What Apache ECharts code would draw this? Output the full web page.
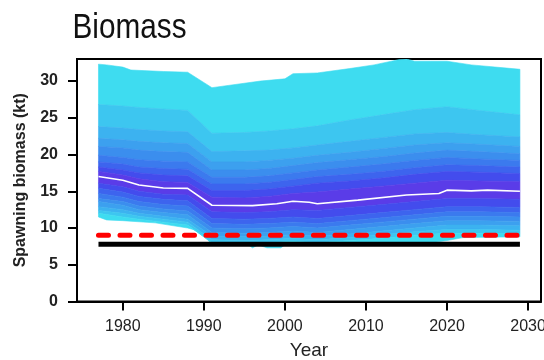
<!DOCTYPE html>
<html>
<head>
<meta charset="utf-8">
<script src="https://cdn.jsdelivr.net/npm/echarts@6/dist/echarts.min.js"></script>
<style>html,body{margin:0;padding:0;background:#fff;}#c{width:544px;height:360px;}</style>
</head>
<body>
<div id="c"></div>
<script>
// ---- tick labels ----
const xTicks = [1980, 1990, 2000, 2010, 2020, 2030];
const yTicks = [0, 5, 10, 15, 20, 25, 30];

// ---- key years for the inner quantile boundaries ----
const years = [1977, 1980, 1982, 1985, 1988, 1991, 1995, 1998, 2001, 2004, 2008, 2012, 2016, 2020, 2024, 2029];

// outer upper envelope
const topYears = [1977, 1978, 1980, 1981, 1985, 1988, 1991, 1993, 1997, 2000, 2001, 2004, 2008, 2011, 2014, 2015, 2016, 2018, 2020, 2023, 2027, 2029];
const topVals  = [32.3, 32.2, 31.9, 31.5, 31.3, 31.2, 29.1, 29.4, 30.0, 30.3, 31.0, 31.1, 31.7, 32.2, 32.9, 33.0, 32.7, 32.7, 32.7, 32.2, 31.8, 31.6];

// upper quantile boundaries (outer -> inner)
const u1 = [26.8, 26.6, 26.4, 26.2, 26.0, 22.9, 23.0, 23.2, 23.5, 23.9, 24.7, 25.4, 26.1, 26.5, 26.0, 25.4];
const u2 = [23.8, 23.6, 23.4, 23.2, 23.1, 20.4, 20.5, 20.6, 20.9, 21.3, 21.8, 22.3, 22.8, 23.0, 22.7, 22.4];
const u3 = [22.2, 22.0, 21.8, 21.6, 21.5, 19.0, 19.0, 19.2, 19.5, 19.9, 20.3, 20.8, 21.3, 21.6, 21.4, 21.1];
const u4 = [21.1, 20.9, 20.6, 20.4, 20.3, 17.9, 17.9, 18.1, 18.5, 18.9, 19.3, 19.7, 20.2, 20.6, 20.4, 20.1];
const u5 = [19.9, 19.6, 19.3, 19.1, 19.0, 16.9, 16.9, 17.1, 17.5, 17.9, 18.3, 18.7, 19.2, 19.6, 19.4, 19.2];
const u6 = [19.0, 18.7, 18.3, 18.1, 18.0, 16.0, 16.0, 16.2, 16.6, 17.0, 17.3, 17.7, 18.2, 18.6, 18.5, 18.3];
const u7 = [18.3, 17.9, 17.5, 17.2, 17.1, 15.1, 15.1, 15.3, 15.7, 16.1, 16.4, 16.8, 17.3, 17.7, 17.6, 17.4];
const u8 = [17.7, 17.2, 16.7, 16.3, 16.2, 14.2, 14.1, 14.3, 14.7, 14.9, 15.3, 15.7, 16.1, 16.5, 16.4, 16.3];

// median
const medYears = [1977, 1980, 1982, 1985, 1988, 1991, 1996, 1999, 2001, 2003, 2004, 2009, 2015, 2019, 2020, 2023, 2025, 2029];
const medVals  = [17.0, 16.5, 15.85, 15.45, 15.4, 13.1, 13.05, 13.3, 13.65, 13.5, 13.3, 13.8, 14.5, 14.7, 15.15, 15.05, 15.15, 15.0];

// lower quantile boundaries (inner -> outer)
const l1 = [16.1, 15.6, 15.0, 14.6, 14.5, 12.2, 12.1, 12.2, 12.5, 12.4, 12.8, 13.2, 13.6, 14.0, 14.0, 13.9];
const l2 = [15.4, 14.9, 14.3, 13.9, 13.7, 11.3, 11.2, 11.3, 11.5, 11.3, 11.7, 12.1, 12.5, 12.9, 12.9, 12.8];
const l3 = [14.7, 14.2, 13.6, 13.2, 13.0, 10.6, 10.5, 10.6, 10.8, 10.6, 11.0, 11.4, 11.8, 12.2, 12.2, 12.1];
const l4 = [14.0, 13.6, 13.0, 12.6, 12.3, 10.0, 9.9, 10.0, 10.2, 10.0, 10.4, 10.8, 11.2, 11.6, 11.6, 11.5];
const l5 = [13.6, 13.1, 12.5, 12.1, 11.8, 9.4, 9.3, 9.4, 9.6, 9.4, 9.8, 10.2, 10.6, 11.0, 11.0, 10.9];
const l6 = [12.9, 12.5, 12.0, 11.6, 11.2, 8.9, 8.8, 8.9, 9.1, 8.9, 9.2, 9.6, 10.0, 10.4, 10.4, 10.3];
const l7 = [12.4, 12.0, 11.6, 11.2, 10.8, 8.4, 8.3, 8.4, 8.6, 8.4, 8.7, 9.1, 9.5, 9.8, 9.8, 9.7];
const l8 = [12.0, 11.5, 11.2, 10.8, 10.4, 8.0, 7.9, 8.0, 8.2, 8.0, 8.3, 8.6, 9.0, 9.3, 9.3, 9.2];

// outer lower envelope
const botYears = [1977, 1978, 1980, 1984, 1988, 1989, 1990, 1991, 1995.5, 1996, 1996.7, 1997.8, 1999.5, 2000, 2017, 2018, 2020, 2022, 2029];
const botVals  = [11.5, 11.1, 11.0, 10.7, 10.0, 9.7, 8.9, 7.8, 7.7, 7.3, 7.7, 7.3, 7.3, 7.7, 7.7, 8.0, 8.3, 8.7, 8.8];

// reference lines
const refYears = [1977, 2029];
const limitRef = 9.0;   // red dashed
const blimRef = 7.8;    // black solid

// band colours (outer -> inner)
const bandColors = ['#3edcf0', '#3dc6f0', '#3cb2f0', '#3ca0ef', '#3b8eee', '#3b7aee', '#3d64ee', '#434ced', '#5a3ce8'];

const pairs = (xs, vs) => xs.map((x, i) => [x, vs[i]]);

const upper = [[topYears, topVals], [years, u1], [years, u2], [years, u3], [years, u4], [years, u5], [years, u6], [years, u7], [years, u8], [medYears, medVals]];
const lower = [[medYears, medVals], [years, l1], [years, l2], [years, l3], [years, l4], [years, l5], [years, l6], [years, l7], [years, l8], [botYears, botVals]];

const bands = [];
for (let i = 0; i < 9; i++) bands.push({ hi: upper[i], lo: upper[i + 1], color: bandColors[i] });
for (let i = 0; i < 9; i++) bands.push({ hi: lower[i], lo: lower[i + 1], color: bandColors[8 - i] });

const chart = echarts.init(document.getElementById('c'), null, { renderer: 'canvas' });

const FONT = 'Liberation Sans, Arial, sans-serif';

chart.setOption({
  animation: false,
  backgroundColor: '#fff',
  graphic: [{
    type: 'text', x: 72.5, y: 28, scaleX: 0.85,
    style: { text: 'Biomass', x: 0, y: 0, fill: '#111', fontSize: 35, fontFamily: FONT, verticalAlign: 'middle', textVerticalAlign: 'middle' }
  }],
  grid: { left: 77, right: 3, top: 59, bottom: 58.5, show: true, borderColor: '#000', borderWidth: 2, backgroundColor: 'transparent', containLabel: false, outerBoundsMode: 'none' },
  xAxis: {
    type: 'value', min: 1974.35, max: 2031.6,
    name: 'Year', nameLocation: 'middle', nameGap: 40,
    nameTextStyle: { fontSize: 19, color: '#222', fontFamily: FONT },
    splitLine: { show: false },
    axisLine: { show: true, onZero: false, lineStyle: { color: '#000', width: 2 } },
    axisTick: { show: true, length: 9, lineStyle: { color: '#000', width: 2 }, customValues: xTicks },
    axisLabel: { fontSize: 16, margin: 17, color: '#222', fontFamily: FONT, customValues: xTicks, formatter: v => String(v) }
  },
  yAxis: {
    type: 'value', min: 0, max: 33,
    name: 'Spawning biomass (kt)', nameLocation: 'middle', nameGap: 48,
    nameTextStyle: { fontSize: 16, fontWeight: 'bold', color: '#222', fontFamily: FONT },
    splitLine: { show: false },
    axisLine: { show: true, lineStyle: { color: '#000', width: 2 } },
    axisTick: { show: true, length: 9, lineStyle: { color: '#000', width: 2 }, customValues: yTicks },
    axisLabel: { fontSize: 16, fontWeight: 'bold', margin: 19, color: '#222', fontFamily: FONT, customValues: yTicks, formatter: v => String(v) }
  },
  series: [
    {
      type: 'scatter', z: 1, symbol: 'emptyCircle', symbolSize: 8,
      itemStyle: { color: '#fff', borderColor: '#000', borderWidth: 2 },
      data: [[medYears[0], medVals[0]], [medYears[medYears.length - 1] + 0.3, medVals[medVals.length - 1]]]
    },
    {
      type: 'custom', z: 2, clip: true,
      data: bands.map((b, i) => [b.hi[0][0], b.hi[1][0], i]),
      renderItem: function (params, api) {
        const b = bands[params.dataIndex];
        const pts = [];
        const hx = b.hi[0], hv = b.hi[1], lx = b.lo[0], lv = b.lo[1];
        for (let i = 0; i < hx.length; i++) pts.push(api.coord([hx[i], hv[i]]));
        for (let i = lx.length - 1; i >= 0; i--) pts.push(api.coord([lx[i], lv[i]]));
        return { type: 'polygon', shape: { points: pts }, style: { fill: b.color, stroke: b.color, lineWidth: 0.6 } };
      }
    },
    {
      type: 'line', z: 5, symbol: 'none',
      lineStyle: { color: '#fff', width: 1.6 },
      data: pairs(medYears, medVals)
    },
    {
      type: 'line', z: 6, symbol: 'none',
      lineStyle: { color: '#000', width: 5 },
      data: refYears.map(y => [y, blimRef])
    },
    {
      type: 'line', z: 7, symbol: 'none',
      lineStyle: { color: '#ff0000', width: 5, type: [10, 11.5], cap: 'round' },
      data: refYears.map(y => [y, limitRef])
    }
  ]
});
</script>
</body>
</html>
